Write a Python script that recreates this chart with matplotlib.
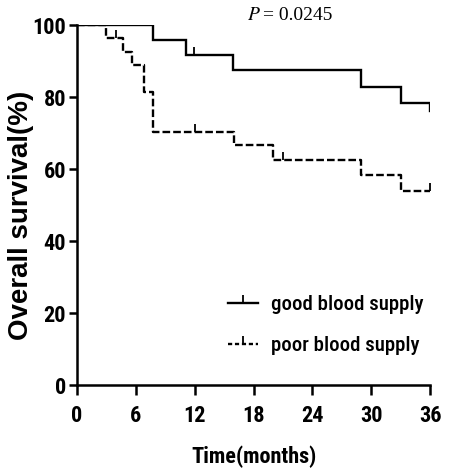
import matplotlib
matplotlib.use("Agg")
import matplotlib.pyplot as plt
from matplotlib.lines import Line2D

# Data
good_t = [0, 7.8, 11.1, 15.9, 29.0, 33.0, 36.0]
good_s = [100, 95.8, 91.7, 87.5, 82.8, 78.3, 76.0]
good_cens_t = [11.9]
good_cens_s = [91.7]

poor_t = [0, 3.0, 4.7, 5.6, 6.8, 7.8, 16.0, 20.0, 29.0, 33.0, 36.0]
poor_s = [100, 96.3, 92.6, 88.9, 81.5, 70.4, 66.6, 62.5, 58.2, 54.0, 54.0]
poor_cens_t = [4.0, 12.0, 21.0, 36.0]
poor_cens_s = [96.3, 70.4, 62.5, 54.0]

x_ticks = [0, 6, 12, 18, 24, 30, 36]
y_ticks = [0, 20, 40, 60, 80, 100]
labels = ["good blood supply", "poor blood supply"]
p_text = "= 0.0245"

plt.rcParams['lines.scale_dashes'] = False
narrow = ['Roboto Condensed', 'DejaVu Sans']
stretch = 'condensed'

fig = plt.figure(figsize=(4.49, 4.70), dpi=100)
ax = fig.add_axes([77/449, 1-385/470, (430-77)/449, (385-25)/470])

lw = 1.7
ax.step(good_t, good_s, where='post', color='black', lw=lw, solid_joinstyle='miter')
ax.plot(good_cens_t, good_cens_s, ls='none', marker=2, ms=6, mew=1.3, color='black')
ln, = ax.step(poor_t, poor_s, where='post', color='black', lw=lw)
ln.set_dashes((5.5, 2.2))
ax.plot(poor_cens_t, poor_cens_s, ls='none', marker=2, ms=6, mew=1.3, color='black')

ax.set_xlim(0, 36)
ax.set_ylim(0, 100)
ax.set_xticks(x_ticks)
ax.set_yticks(y_ticks)
for s in ['top', 'right']:
    ax.spines[s].set_visible(False)
for s in ['left', 'bottom']:
    ax.spines[s].set_linewidth(1.8)
ax.tick_params(axis='x', direction='out', length=7.5, width=1.8, pad=7)
ax.tick_params(axis='y', direction='out', length=6, width=1.8, pad=2)
for lab in ax.get_xticklabels() + ax.get_yticklabels():
    lab.set_family(narrow)
    lab.set_fontstretch(stretch)
    lab.set_fontweight('bold')
    lab.set_fontsize(16)

ax.set_xlabel("Time(months)", family=narrow, fontstretch=stretch,
              fontweight='bold', fontsize=16, labelpad=13)
ax.set_ylabel("Overall survival(%)", family=['Liberation Sans', 'DejaVu Sans'],
              fontweight='bold', fontsize=20)
ax.yaxis.set_label_coords(-0.122, 0.47)

fig.text(261/449, 1-16/470, r"$P$", family=['Liberation Serif'], fontsize=14,
         ha='right', va='center', math_fontfamily='stix')
fig.text(263/449, 1-16/470, p_text, family=['Liberation Serif'], fontsize=14,
         ha='left', va='center')

h1 = Line2D([], [], color='black', lw=lw, marker=2, ms=6, mew=1.3)
h2 = Line2D([], [], color='black', lw=lw, marker=2, ms=6, mew=1.3)
h2.set_dashes((3, 2))
leg = fig.legend([h1, h2], labels, loc='upper left',
                 bbox_to_anchor=(218/449, 1-285/470), frameon=False,
                 handlelength=1.4, handletextpad=0.65, labelspacing=1.05,
                 borderpad=0, numpoints=1,
                 prop={'family': narrow, 'size': 15, 'stretch': stretch,
                       'weight': 'medium'})

fig.savefig("out.png", dpi=100)
